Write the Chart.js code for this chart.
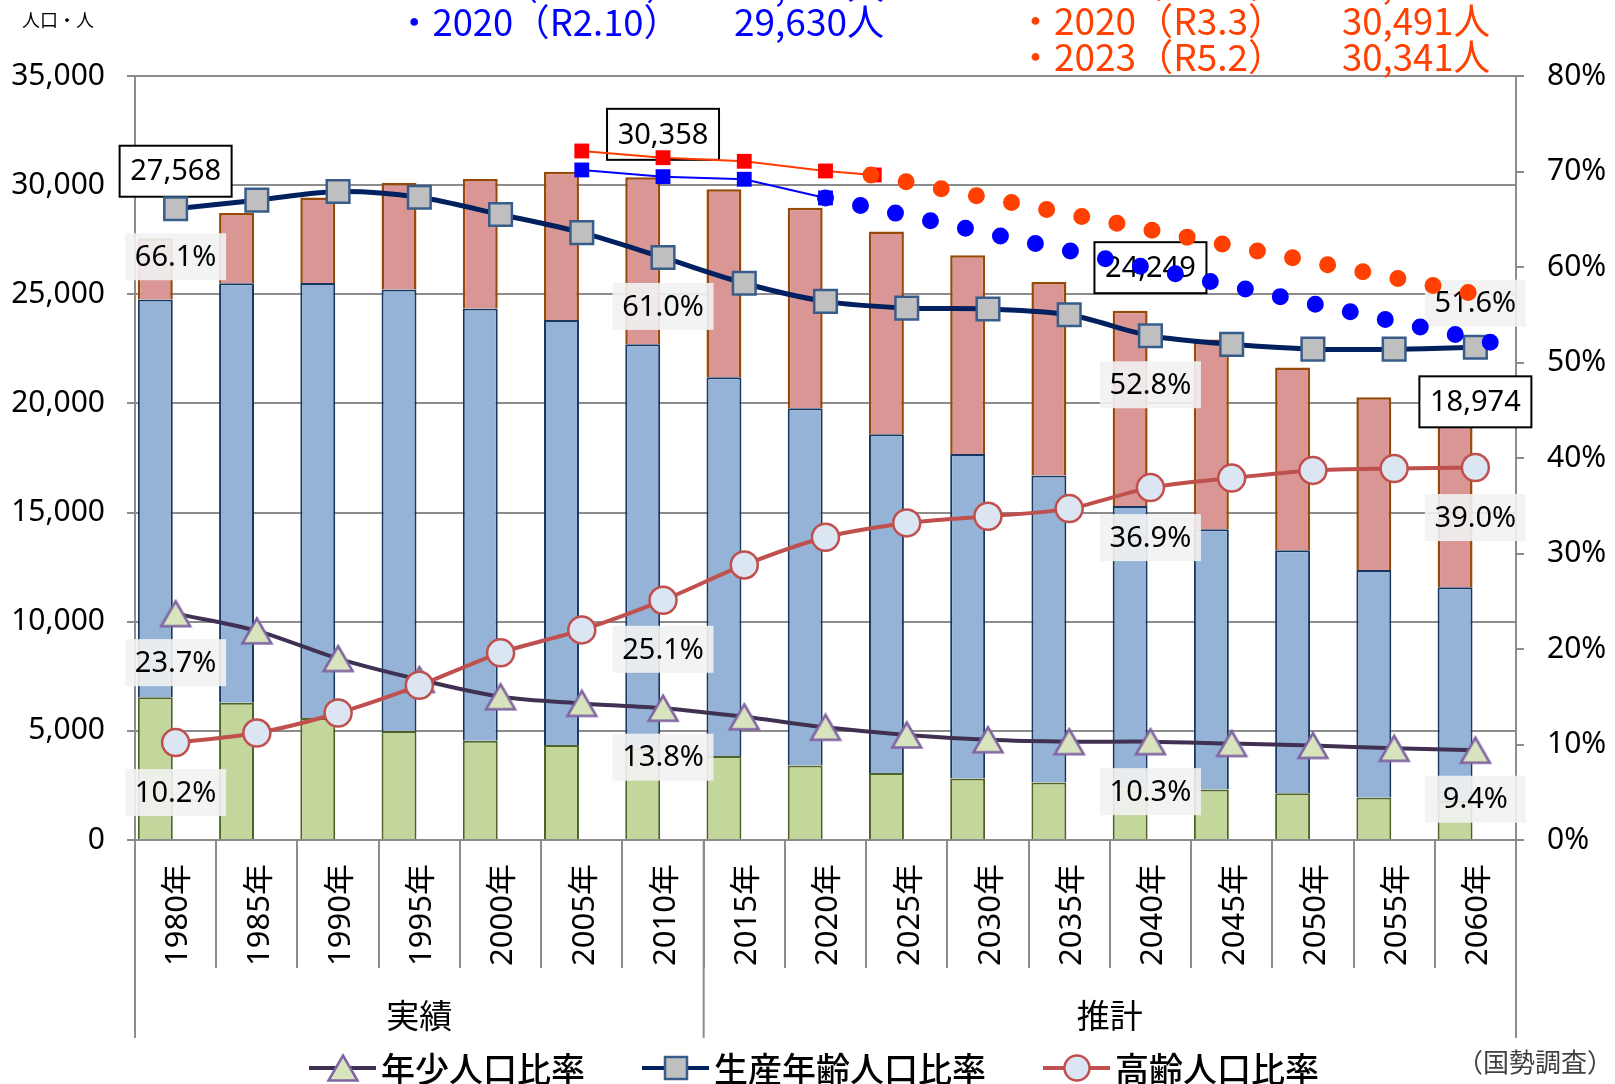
<!DOCTYPE html>
<html>
<head>
<meta charset="utf-8">
<script src="https://cdn.jsdelivr.net/npm/chart.js@4.4.1/dist/chart.umd.min.js"></script>
<style>
  html, body { margin: 0; padding: 0; background: #fff; }
  canvas { display: block; }
</style>
</head>
<body>
<canvas id="chart" width="1615" height="1084"></canvas>
<script>
// categories
const categories = ['1980年', '1985年', '1990年', '1995年', '2000年', '2005年', '2010年', '2015年', '2020年',
  '2025年', '2030年', '2035年', '2040年', '2045年', '2050年', '2055年', '2060年'];
const groupNames = ['実績', '推計'];
const groupSizes = [7, 10];

// population by age group (people)
const youngPop = [6534, 6291, 5592, 4996, 4542, 4347, 4189, 3846, 3418, 3066, 2813, 2633, 2498, 2315, 2143, 1947, 1784];
const workingPop = [18222, 19218, 19927, 20224, 19805, 19470, 18518, 17350, 16364, 15527, 14870, 14061, 12803, 11921, 11129, 10425, 9791];
const elderPop = [2812, 3217, 3915, 4875, 5935, 6796, 7651, 8615, 9181, 9283, 9110, 8871, 8948, 8689, 8379, 7910, 7399];
const totalPop = [27568, 28726, 29434, 30095, 30282, 30613, 30358, 29811, 28963, 27876, 26793, 25565, 24249, 22925, 21651, 20282, 18974];

// ratios (%)
const youngRate = [23.7, 21.9, 19.0, 16.8, 15.0, 14.3, 13.8, 12.9, 11.8, 11.0, 10.5, 10.3, 10.3, 10.1, 9.9, 9.6, 9.4];
const workingRate = [66.1, 67.0, 67.9, 67.3, 65.5, 63.6, 61.0, 58.3, 56.4, 55.7, 55.6, 55.0, 52.8, 51.9, 51.4, 51.4, 51.6];
const elderRate = [10.2, 11.2, 13.3, 16.2, 19.6, 22.0, 25.1, 28.8, 31.7, 33.2, 33.9, 34.7, 36.9, 37.9, 38.7, 38.9, 39.0];

// actual counts and their trend lines (year, people)
const censusYears = [2005, 2010, 2015, 2020];
const censusPop = [30696, 30389, 30270, 29414];
const registryYears = [2005, 2010, 2015, 2020, 2023];
const registryPop = [31565, 31258, 31093, 30650, 30467];
const censusTrendYears = [2020, 2061.1];
const censusTrendPop = [29414, 22776];
const registryTrendYears = [2022.8, 2059.7];
const registryTrendPop = [30467, 25065];

// axis ticks
const leftMax = 35000, leftStep = 5000;
const rightMax = 80, rightStep = 10;

// notes at the top
const censusNotes = [['・2015（H27.10）', '30,190人'], ['・2020（R2.10）', '29,630人']];
const registryNotes = [['・2019（R1.10）', '30,650人'], ['・2020（R3.3）', '30,491人'], ['・2023（R5.2）', '30,341人']];

// label placement: [category, dx, dy from bar top]
const totalLabelPos = [[0, 0, -67], [6, 0, -43], [12, 0, -43], [16, 0, -24]];
// [dataset, category, dy from point]
const pctLabelPos = [[3, 0, 49], [4, 0, 48], [5, 0, 50], [3, 6, 49], [4, 6, 49], [5, 6, 49],
  [3, 12, 50], [4, 12, 49], [5, 12, 50], [3, 16, 49], [4, 16, -44], [5, 16, 50]];

const NUM_FONT = "'Noto Sans', 'Open Sans', sans-serif";
const JP_FONT = "'Noto Sans CJK JP', 'Noto Sans', sans-serif";
const GRID = '#8c8c8c';

function triangleImage() {
  const c = document.createElement('canvas');
  c.width = 34; c.height = 30;
  const g = c.getContext('2d');
  g.beginPath();
  g.moveTo(17, 2.5); g.lineTo(31.5, 27.5); g.lineTo(2.5, 27.5); g.closePath();
  g.fillStyle = '#d7e4bd'; g.fill();
  g.lineWidth = 2.5; g.strokeStyle = '#8064a2'; g.stroke();
  return c;
}
const triImg = triangleImage();

function fitText(ctx, text, x, y, w) {
  const m = ctx.measureText(text).width;
  ctx.save();
  ctx.translate(x, y);
  ctx.scale(w / m, 1);
  ctx.textAlign = 'left';
  ctx.fillText(text, 0, 0);
  ctx.restore();
}

function box(ctx, cx, cy, w, h, text, fill, stroke) {
  ctx.fillStyle = fill;
  ctx.fillRect(cx - w / 2, cy - h / 2, w, h);
  if (stroke) {
    ctx.lineWidth = 2;
    ctx.strokeStyle = stroke;
    ctx.strokeRect(cx - w / 2, cy - h / 2, w, h);
  }
  ctx.fillStyle = '#000';
  ctx.textAlign = 'center';
  ctx.textBaseline = 'middle';
  ctx.fillText(text, cx, cy + 1);
}

const overlay = {
  id: 'overlay',
  afterDatasetDraw(chart, args) {
    if (args.index !== 0) return;
    const ctx = chart.ctx;
    const xs = chart.scales.x, ys = chart.scales.y, y1 = chart.scales.y1;
    ctx.save();
    ctx.font = '29px ' + NUM_FONT;
    totalLabelPos.forEach(([i, dx, dy]) => {
      box(ctx, xs.getPixelForValue(i) + dx, ys.getPixelForValue(totalPop[i]) + dy, 112, 51,
        totalPop[i].toLocaleString('en-US'), '#fff', '#000');
    });
    const rates = { 3: youngRate, 4: workingRate, 5: elderRate };
    pctLabelPos.forEach(([d, i, dy]) => {
      box(ctx, xs.getPixelForValue(i), y1.getPixelForValue(rates[d][i]) + dy, 101, 47,
        rates[d][i].toFixed(1) + '%', 'rgba(242,242,242,0.9)', null);
    });
    ctx.restore();
  },
  afterDraw(chart) {
    const ctx = chart.ctx;
    const xs = chart.scales.x;
    const area = chart.chartArea;
    ctx.save();

    // category labels
    ctx.fillStyle = '#000';
    ctx.font = '31px ' + NUM_FONT + ", 'Noto Sans CJK JP'";
    ctx.textAlign = 'right';
    ctx.textBaseline = 'middle';
    categories.forEach((c, i) => {
      ctx.save();
      ctx.translate(xs.getPixelForValue(i) + 3, area.bottom + 24);
      ctx.rotate(-Math.PI / 2);
      ctx.fillText(c, 0, 0);
      ctx.restore();
    });

    // group separators and names
    let start = 0;
    const edges = [xs.left];
    groupSizes.forEach(n => {
      start += n;
      edges.push(start < categories.length ? (xs.getPixelForValue(start - 1) + xs.getPixelForValue(start)) / 2 : xs.right);
    });
    ctx.strokeStyle = GRID;
    ctx.lineWidth = 2;
    edges.forEach(x => {
      ctx.beginPath();
      ctx.moveTo(x, area.bottom);
      ctx.lineTo(x, area.bottom + 198);
      ctx.stroke();
    });
    ctx.font = '33px ' + JP_FONT;
    ctx.textAlign = 'center';
    groupNames.forEach((g, k) => ctx.fillText(g, (edges[k] + edges[k + 1]) / 2, area.bottom + 175));

    // legend
    const items = [
      { text: '年少人口比率', color: '#403152', style: 'tri' },
      { text: '生産年齢人口比率', color: '#002060', style: 'rect' },
      { text: '高齢人口比率', color: '#c0504d', style: 'circle' }
    ];
    ctx.font = '500 34px ' + JP_FONT;
    ctx.textAlign = 'left';
    let lx = 309;
    const ly = 1068;
    items.forEach(it => {
      ctx.strokeStyle = it.color;
      ctx.lineWidth = 4;
      ctx.beginPath(); ctx.moveTo(lx, ly); ctx.lineTo(lx + 67, ly); ctx.stroke();
      const mx = lx + 34;
      if (it.style === 'tri') {
        ctx.drawImage(triImg, mx - 17, ly - 15);
      } else if (it.style === 'rect') {
        ctx.fillStyle = '#bfbfbf'; ctx.strokeStyle = '#385d8a'; ctx.lineWidth = 2.5;
        ctx.fillRect(mx - 11, ly - 11, 22, 22); ctx.strokeRect(mx - 11, ly - 11, 22, 22);
      } else {
        ctx.fillStyle = '#dce6f2'; ctx.strokeStyle = '#c0504d'; ctx.lineWidth = 2.5;
        ctx.beginPath(); ctx.arc(mx, ly, 12.5, 0, Math.PI * 2); ctx.fill(); ctx.stroke();
      }
      ctx.fillStyle = '#000';
      ctx.fillText(it.text, lx + 72, ly + 1);
      lx += 72 + ctx.measureText(it.text).width + 57;
    });

    // source and unit
    ctx.font = '26px ' + JP_FONT;
    ctx.fillStyle = '#404040';
    ctx.textAlign = 'right';
    ctx.fillText('（国勢調査）', 1613, 1062);
    ctx.font = '18px ' + JP_FONT;
    ctx.fillStyle = '#000';
    ctx.textAlign = 'left';
    ctx.fillText('人口・人', 22, 20);

    // notes at the top
    ctx.font = '37px ' + JP_FONT;
    ctx.fillStyle = '#0000ff';
    censusNotes.forEach(([a, b], k) => {
      const y = 22 - 36 * (censusNotes.length - 1 - k);
      fitText(ctx, a, 396, y, a.length > 13 ? 300 : 284);
      fitText(ctx, b, 734, y, 150);
    });
    ctx.fillStyle = '#ff4000';
    registryNotes.forEach(([a, b], k) => {
      const y = 20.5 + 36.5 * (k - 1);
      fitText(ctx, a, 1017, y, 268);
      fitText(ctx, b, 1342, y, 148);
    });
    ctx.restore();
  }
};

const xy = (xsArr, ysArr) => xsArr.map((x, i) => ({ x: x, y: ysArr[i] }));

Chart.defaults.font.family = NUM_FONT;
Chart.defaults.color = '#000';

new Chart(document.getElementById('chart'), {
  type: 'bar',
  data: {
    labels: categories,
    datasets: [
      { label: '年少人口', data: youngPop, backgroundColor: '#c3d69b', borderColor: '#4f6228', borderWidth: 2,
        order: 5, barPercentage: 0.86, categoryPercentage: 1, yAxisID: 'y' },
      { label: '生産年齢人口', data: workingPop, backgroundColor: '#95b3d7', borderColor: '#17375e', borderWidth: 2,
        order: 6, barPercentage: 0.86, categoryPercentage: 1, yAxisID: 'y' },
      { label: '高齢人口', data: elderPop, backgroundColor: '#d99694', borderColor: '#984807', borderWidth: 2.5,
        order: 7, barPercentage: 0.86, categoryPercentage: 1, yAxisID: 'y' },
      { type: 'line', label: '年少人口比率', data: youngRate, yAxisID: 'y1', order: 4, stack: 'r1',
        borderColor: '#403152', borderWidth: 4, tension: 0.3,
        pointStyle: triImg, pointRadius: 15 },
      { type: 'line', label: '生産年齢人口比率', data: workingRate, yAxisID: 'y1', order: 3, stack: 'r2',
        borderColor: '#002060', borderWidth: 5, tension: 0.3,
        pointStyle: 'rect', pointRadius: 16, pointBackgroundColor: '#bfbfbf', pointBorderColor: '#385d8a', pointBorderWidth: 2.5 },
      { type: 'line', label: '高齢人口比率', data: elderRate, yAxisID: 'y1', order: 2, stack: 'r3',
        borderColor: '#c0504d', borderWidth: 4, tension: 0.3,
        pointStyle: 'circle', pointRadius: 13.5, pointBackgroundColor: '#dce6f2', pointBorderColor: '#c0504d', pointBorderWidth: 2.5 },
      { type: 'line', label: '国勢調査', data: xy(censusYears, censusPop), xAxisID: 'x2', yAxisID: 'y', order: 1, stack: 'c1',
        borderColor: '#0000ff', borderWidth: 2, pointStyle: 'rect', pointRadius: 10.5,
        pointBackgroundColor: '#0000ff', pointBorderWidth: 0 },
      { type: 'line', label: '住民基本台帳', data: xy(registryYears, registryPop), xAxisID: 'x2', yAxisID: 'y', order: 1, stack: 'c2',
        borderColor: '#ff3c00', borderWidth: 2, pointStyle: 'rect', pointRadius: 10.5,
        pointBackgroundColor: '#ff0000', pointBorderWidth: 0 },
      { type: 'line', label: '国勢調査推移', data: xy(censusTrendYears, censusTrendPop), xAxisID: 'x2', yAxisID: 'y', order: 0, stack: 'c3',
        borderColor: '#0000ff', borderWidth: 17, borderDash: [0, 35.8], borderCapStyle: 'round', pointRadius: 0 },
      { type: 'line', label: '住民基本台帳推移', data: xy(registryTrendYears, registryTrendPop), xAxisID: 'x2', yAxisID: 'y', order: 0, stack: 'c4',
        borderColor: '#ff4000', borderWidth: 17, borderDash: [0, 35.8], borderCapStyle: 'round', pointRadius: 0 }
    ]
  },
  options: {
    responsive: false,
    animation: false,
    devicePixelRatio: 1,
    layout: { padding: { top: 76, left: 0, right: 0, bottom: 0 } },
    plugins: { legend: { display: false }, tooltip: { enabled: false } },
    scales: {
      x: {
        stacked: true,
        grid: { offset: true, drawOnChartArea: false, tickLength: 128, color: GRID, lineWidth: 2 },
        border: { color: GRID, width: 2 },
        ticks: { display: false },
        afterFit(s) { s.height = 244; }
      },
      x2: {
        type: 'linear', position: 'bottom', offset: false, min: 1977.5, max: 2062.5,
        grid: { display: false, drawTicks: false, offset: false },
        border: { display: false },
        ticks: { display: false },
        afterFit(s) { s.height = 0; }
      },
      y: {
        stacked: true,
        min: 0, max: leftMax,
        grid: { color: GRID, lineWidth: 2, tickLength: 8 },
        border: { color: GRID, width: 2 },
        ticks: { stepSize: leftStep, padding: 22, font: { size: 30 }, color: '#000',
          callback: v => v.toLocaleString('en-US') },
        afterFit(s) { s.width = 135; }
      },
      y1: {
        position: 'right',
        min: 0, max: rightMax,
        grid: { drawOnChartArea: false, color: GRID, lineWidth: 2, tickLength: 8 },
        border: { color: GRID, width: 2 },
        ticks: { stepSize: rightStep, padding: 23, font: { size: 30 }, color: '#000',
          callback: v => v + '%' },
        afterFit(s) { s.width = 99; }
      }
    }
  },
  plugins: [overlay]
});
</script>
</body>
</html>
